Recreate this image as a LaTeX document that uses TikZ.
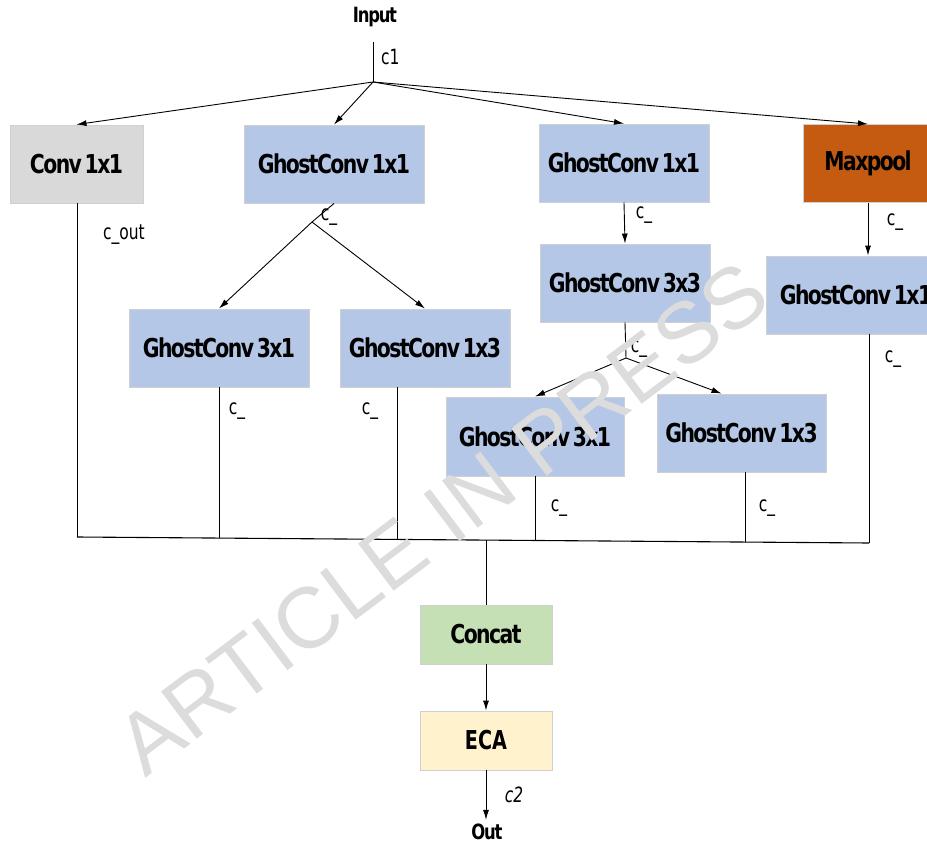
\documentclass[tikz,border=0pt]{standalone}
\usepackage{fontspec}
\usetikzlibrary{arrows.meta,calc}
\newfontfamily\labfont[FakeStretch=0.82]{DejaVu Sans Condensed}
\newfontfamily\boxfont[FakeStretch=0.87,LetterSpace=-6,WordSpace=0.5]{DejaVu Sans Condensed}
\newfontfamily\wmfont{Liberation Sans}
\definecolor{boxgray}{HTML}{D9D9D9}
\definecolor{boxblue}{HTML}{B4C7E7}
\definecolor{boxorange}{HTML}{C55A11}
\definecolor{boxgreen}{HTML}{C5E0B4}
\definecolor{boxyellow}{HTML}{FFF2CC}
\definecolor{edgegray}{HTML}{D0D0D0}
\definecolor{wmgray}{HTML}{DCDCDC}
\begin{document}
\begin{tikzpicture}[x=1pt,y=-1pt,
  box/.style={draw=edgegray, line width=0.9pt, inner sep=0pt, text=black,
    font=\boxfont\bfseries\fontsize{26}{28}\selectfont},
  lbl/.style={inner sep=0pt, font=\labfont\fontsize{21}{24}\selectfont},
  ttl/.style={inner sep=0pt, font=\boxfont\bfseries\fontsize{21}{24}\selectfont},
  arr/.style={-{Latex[length=10pt,width=6pt]}, line width=0.9pt},
  ln/.style={line width=0.9pt}]
\useasboundingbox (0,0) rectangle (927,848);
\fill[white] (0,0) rectangle (927,848);

% nodes
\node[ttl] (input) at (375,17) {Input};
\node[box, fill=boxgray, minimum width=133pt, minimum height=78pt] (conv) at (76.5,164) {Conv 1x1};
\node[box, fill=boxblue, minimum width=180pt, minimum height=78pt] (gA) at (334,164) {GhostConv 1x1};
\node[box, fill=boxblue, minimum width=170pt, minimum height=78pt] (gB) at (624,163) {GhostConv 1x1};
\node[box, fill=boxorange, minimum width=130pt, minimum height=78pt] (maxp) at (868,163.5) {Maxpool};
\node[box, fill=boxblue, minimum width=170pt, minimum height=78pt] (g33) at (625,283) {GhostConv 3x3};
\node[box, fill=boxblue, minimum width=180pt, minimum height=78pt] (gC) at (856,295) {GhostConv 1x1};
\node[box, fill=boxblue, minimum width=180pt, minimum height=78pt] (g31a) at (219,348) {GhostConv 3x1};
\node[box, fill=boxblue, minimum width=170pt, minimum height=78pt] (g13a) at (425,348) {GhostConv 1x3};
\node[box, fill=boxblue, minimum width=178pt, minimum height=79pt] (g31b) at (535,436.5) {GhostConv 3x1};
\node[box, fill=boxblue, minimum width=169pt, minimum height=78pt] (g13b) at (741.5,433) {GhostConv 1x3};
\node[box, fill=boxgreen, minimum width=132pt, minimum height=59pt] (concat) at (486,634.5) {Concat};
\node[box, fill=boxyellow, minimum width=132pt, minimum height=59pt,
  font=\labfont\bfseries\fontsize{26}{30}\selectfont] (eca) at (486,740.5) {ECA};
\node[ttl] (out) at (487,832) {Out};

% coordinates
\coordinate (top) at (373,42);
\coordinate (P) at (373,82);
\coordinate (Q) at (312,222);
\coordinate (R) at (626,358);
\coordinate (b0) at (77,537);
\coordinate (b1) at (219,538.1);
\coordinate (b2) at (397,539.4);
\coordinate (bc) at (486,540.1);
\coordinate (b3) at (535,540.5);
\coordinate (b4) at (745,542.1);
\coordinate (b6) at (869,543);

% connectors
\draw[ln] (top) -- (P);
\draw[arr] (P) -- (conv.north);
\draw[arr] (P) -- (gA.north);
\draw[arr] (P) -- (gB.north);
\draw[arr] (P) -- (maxp.north);

\draw[ln] (gA.south) -- (Q);
\draw[arr] (Q) -- (g31a.north);
\draw[arr] (Q) -- (g13a.north);

\draw[arr] (gB.south) -- (g33.north);
\draw[ln] (g33.south) -- (R);
\draw[arr] (R) -- (g31b.north);
\draw[arr] (R) -- ($(g13b.north)+(-20,0)$);

\draw[arr] (maxp.south) -- (maxp.south |- gC.north);

\draw[ln] (conv.south -| b0) -- (b0);
\draw[ln] (g31a.south -| b1) -- (b1);
\draw[ln] (g13a.south -| b2) -- (b2);
\draw[ln] (g31b.south -| b3) -- (b3);
\draw[ln] (g13b.south -| b4) -- (b4);
\draw[ln] (gC.south -| b6) -- (b6);
\draw[line width=1.1pt] (b0) -- (b6);
\draw[ln] (bc) -- (concat.north);
\draw[arr] (concat.south) -- (eca.north);
\draw[arr] (eca.south) -- ($(out.north)+(-1,-4)$);

% labels
\node[lbl, anchor=west] (l1) at (381,57) {c1};
\node[lbl] (l2) at (124,235) {c\_out};
\node[lbl] (l3) at (329,217) {c\_};
\node[lbl] (l4) at (644,215) {c\_};
\node[lbl] (l5) at (639,349) {c\_};
\node[lbl] (l6) at (895,222) {c\_};
\node[lbl] (l7) at (893,359) {c\_};
\node[lbl] (l8) at (237,411) {c\_};
\node[lbl] (l9) at (370,411) {c\_};
\node[lbl] (l10) at (559,508) {c\_};
\node[lbl] (l11) at (767,508) {c\_};
\node[lbl, font=\labfont\itshape\fontsize{21}{24}\selectfont] (l12) at (514,795) {c2};

% watermark
\node[inner sep=0pt, text=wmgray, rotate=37, font=\wmfont\fontsize{86}{90}\selectfont]
  (wm) at (442,518) {ARTICLE IN PRESS};
\end{tikzpicture}
\end{document}
